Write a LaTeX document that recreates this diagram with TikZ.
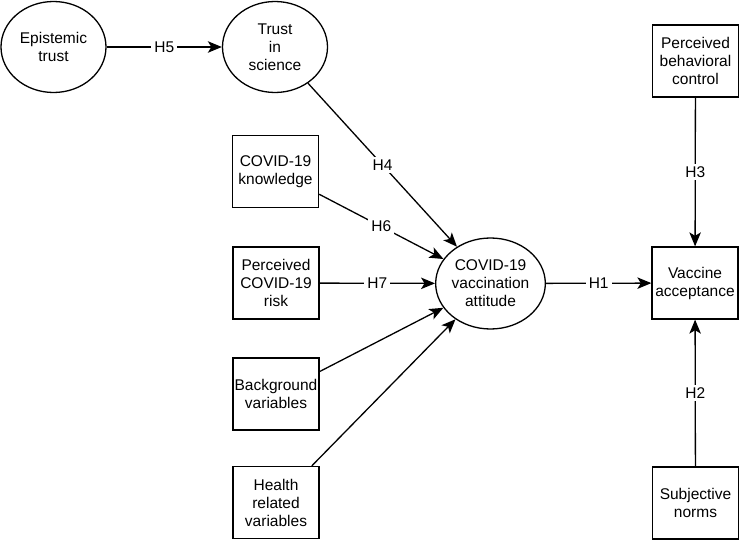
\documentclass[tikz,border=0pt]{standalone}
\usepackage{fontspec}
\setmainfont{Liberation Sans}
\usetikzlibrary{shapes.geometric,arrows.meta}
\begin{document}
\begin{tikzpicture}[x=1pt,y=-1pt,
  every node/.style={font=\fontsize{15.5}{18}\selectfont, align=center},
  latent/.style={draw, ellipse, line width=1.3pt, minimum width=105pt, minimum height=91pt, inner sep=0pt},
  obsbox/.style={draw, rectangle, line width=1.3pt, minimum width=86pt, minimum height=72pt, inner sep=0pt},
  conn/.style={line width=1.3pt, -{Stealth[length=14pt,width=11.5pt,inset=3.5pt]}},
  hlab/.style={fill=white, inner sep=3pt}
]
\useasboundingbox (0,0) rectangle (744,543);
\node[latent] (ep) at (53.5,47) {Epistemic\\trust};
\node[latent] (ts) at (275,47) {Trust\\in\\science};
\node[obsbox] (kn) at (275.5,171.5) {COVID-19\\knowledge};
\node[obsbox] (ri) at (276,283) {Perceived\\COVID-19\\risk};
\node[obsbox] (bg) at (276,394) {Background\\variables};
\node[obsbox] (he) at (276,502.5) {Health\\related\\variables};
\node[latent] (at) at (490.5,283.5) {COVID-19\\vaccination\\attitude};
\node[obsbox] (va) at (695,283) {Vaccine\\acceptance};
\node[obsbox] (pb) at (695.5,61) {Perceived\\behavioral\\control};
\node[obsbox] (sn) at (695.5,503) {Subjective\\norms};

\draw[conn] (ep) -- node[hlab] {H5} (ts);
\draw[conn] (ts) -- node[hlab] {H4} (at);
\draw[conn] (kn) -- node[hlab] {H6} (at);
\draw[conn] (ri) -- node[hlab] {H7} (at);
\draw[conn] (bg) -- (at);
\draw[conn] (he) -- (at);
\draw[conn] (at) -- node[hlab] {H1} (va);
\draw[conn] (pb) -- node[hlab] {H3} (va);
\draw[conn] (sn) -- node[hlab] {H2} (va);
\end{tikzpicture}
\end{document}
